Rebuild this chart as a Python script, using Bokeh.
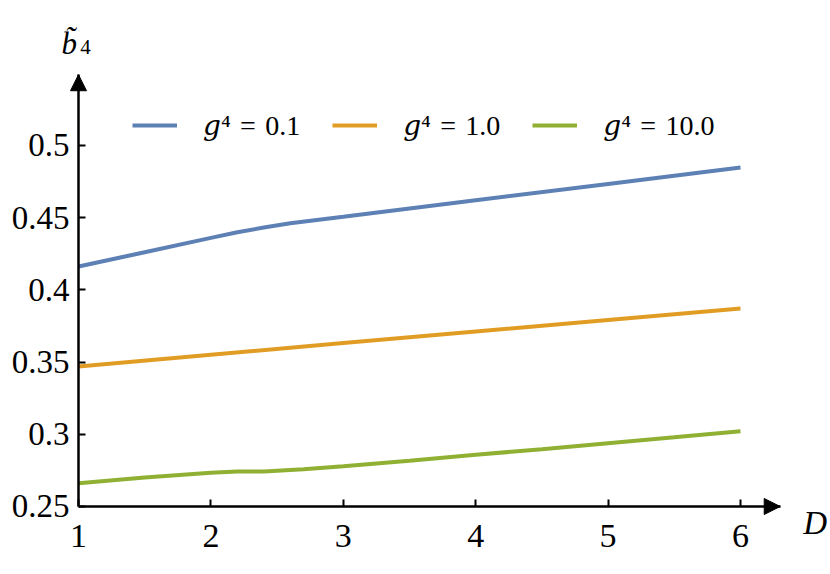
from bokeh.plotting import figure
from bokeh.models import FixedTicker, Legend, LegendItem, Arrow, NormalHead, Label, Range1d
from bokeh.embed import file_html
from bokeh.resources import INLINE

# ---- data ----
D_blue = [1.0, 1.5, 2.0, 2.2, 2.4, 2.6, 3.0, 4.0, 5.0, 6.0]
b4_blue = [0.4162, 0.4261, 0.4360, 0.4399, 0.4432, 0.4462, 0.4507, 0.4621, 0.4734, 0.4848]

D_orange = [1.0, 2.0, 3.0, 4.0, 5.0, 6.0]
b4_orange = [0.3470, 0.3551, 0.3632, 0.3712, 0.3792, 0.3871]

D_green = [1.0, 1.5, 2.0, 2.2, 2.4, 2.7, 3.0, 3.5, 4.0, 4.5, 5.0, 5.5, 6.0]
b4_green = [0.2661, 0.2700, 0.2733, 0.2743, 0.2743, 0.2758, 0.2779, 0.2817, 0.2858, 0.2897, 0.2938, 0.2979, 0.3021]

series_labels = ["\U0001D454\u2074\u2004=\u20040.1", "\U0001D454\u2074\u2004=\u20041.0", "\U0001D454\u2074\u2004=\u200410.0"]
series_colors = ["#5e81b5", "#e19c24", "#8fb032"]

x_ticks = [1, 2, 3, 4, 5, 6]
y_ticks = [0.25, 0.3, 0.35, 0.4, 0.45, 0.5]
y_tick_labels = ["0.25", "0.3", "0.35", "0.4", "0.45", "0.5"]

# axis extents (origin and arrow tips)
AX_X0, AX_X1 = 1.0, 6.30
AX_Y0, AX_Y1 = 0.25, 0.549

# view window around the axes
VIEW_X = (0.4109, 6.6798)
VIEW_Y = (0.2029, 0.6004)

FONT = "Liberation Serif"
LEGEND_FONT = "Liberation Serif, DejaVu Serif"

p = figure(width=830, height=574, x_range=Range1d(*VIEW_X), y_range=Range1d(*VIEW_Y),
           output_backend="svg", toolbar_location=None,
           min_border_left=0, min_border_right=0, min_border_top=0, min_border_bottom=0)
p.grid.visible = False
p.outline_line_color = None
p.background_fill_color = "white"
p.border_fill_color = "white"

for ax in (p.xaxis[0], p.yaxis[0]):
    ax.axis_line_width = 2.5
    ax.axis_line_color = "black"
    ax.major_tick_line_width = 2
    ax.major_tick_line_color = "black"
    ax.major_tick_in = 7
    ax.major_tick_out = 0
    ax.minor_tick_in = 0
    ax.minor_tick_out = 0
    ax.major_label_text_font = FONT
    ax.major_label_text_color = "black"

p.xaxis.fixed_location = AX_Y0
p.xaxis.bounds = (AX_X0, AX_X1)
p.xaxis.ticker = FixedTicker(ticks=x_ticks)
p.xaxis.major_label_text_font_size = "34px"
p.xaxis.major_label_standoff = 19

p.yaxis.fixed_location = AX_X0
p.yaxis.bounds = (AX_Y0, AX_Y1)
p.yaxis.ticker = FixedTicker(ticks=y_ticks)
p.yaxis.major_label_overrides = {t: s for t, s in zip(y_ticks, y_tick_labels)}
p.yaxis.major_label_text_font_size = "33px"
p.yaxis.major_label_standoff = 9

r1 = p.line(D_blue, b4_blue, line_color=series_colors[0], line_width=4)
r2 = p.line(D_orange, b4_orange, line_color=series_colors[1], line_width=4)
r3 = p.line(D_green, b4_green, line_color=series_colors[2], line_width=4)

legend = Legend(items=[LegendItem(label=series_labels[0], renderers=[r1]),
                       LegendItem(label=series_labels[1], renderers=[r2]),
                       LegendItem(label=series_labels[2], renderers=[r3])],
                orientation="horizontal", location=(132, 432),
                glyph_width=45, glyph_height=34, label_standoff=26, spacing=32,
                padding=0, margin=0, label_height=34,
                label_text_font=LEGEND_FONT, label_text_font_size="28px", label_text_color="black",
                border_line_color=None, background_fill_alpha=0)
p.add_layout(legend)

# axis arrowheads
p.add_layout(Arrow(x_start=AX_X1 - 0.1, y_start=AX_Y0, x_end=AX_X1, y_end=AX_Y0,
                   line_width=2.5, line_color="black",
                   end=NormalHead(size=16, fill_color="black", line_color="black")))
p.add_layout(Arrow(x_start=AX_X0, y_start=AX_Y1 - 0.01, x_end=AX_X0, y_end=AX_Y1,
                   line_width=2.5, line_color="black",
                   end=NormalHead(size=16, fill_color="black", line_color="black")))

# axis titles
p.add_layout(Label(x=0.872, y=0.5706, text="b\u0303", text_font=FONT, text_color="black",
                   text_font_style="italic", text_font_size="31px", text_align="left",
                   text_baseline="alphabetic"))
p.add_layout(Label(x=1.013, y=0.5679, text="4", text_font=FONT, text_color="black",
                   text_font_size="21px", text_align="left",
                   text_baseline="alphabetic"))
p.add_layout(Label(x=6.474, y=0.2389, text="D", text_font=FONT, text_color="black",
                   text_font_style="italic", text_font_size="33px", text_align="left",
                   text_baseline="alphabetic"))

open("out.html", "w").write(file_html(p, INLINE))
